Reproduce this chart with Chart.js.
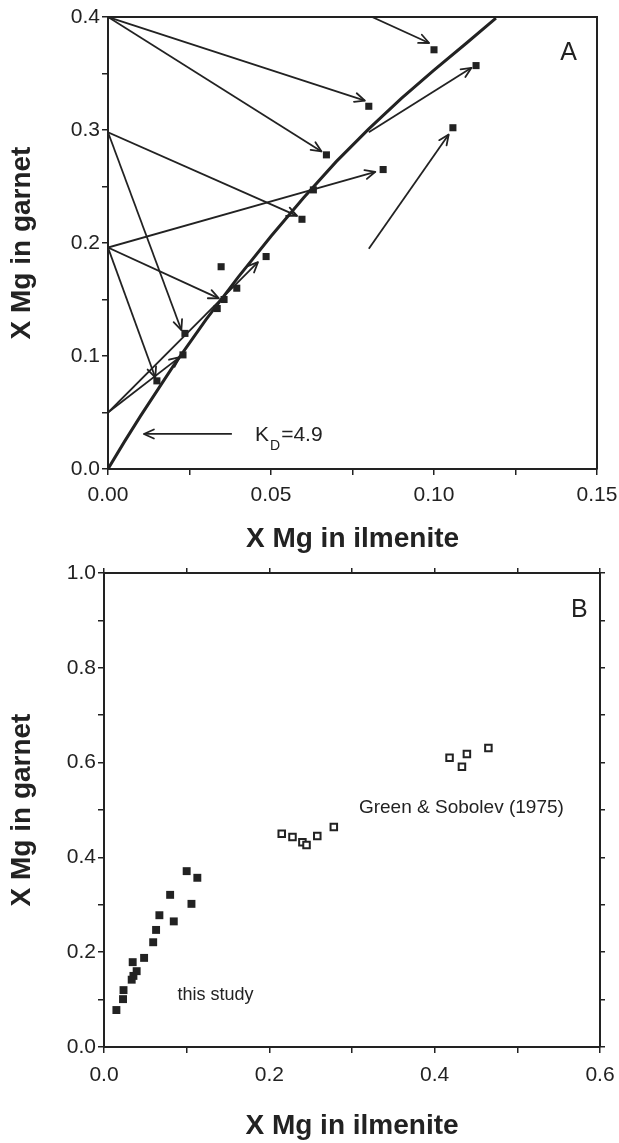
<!DOCTYPE html>
<html>
<head>
<meta charset="utf-8">
<script src="https://cdn.jsdelivr.net/npm/chart.js@4.4.1/dist/chart.umd.min.js"></script>
<style>
  html, body { margin: 0; padding: 0; background: #fff; }
  #wrapA { position: absolute; left: 0; top: 0; width: 619px; height: 560px; }
  #wrapB { position: absolute; left: 0; top: 560px; width: 619px; height: 583px; }
</style>
</head>
<body>
<div id="wrapA"><canvas id="chartA" width="619" height="560"></canvas></div>
<div id="wrapB"><canvas id="chartB" width="619" height="583"></canvas></div>
<script>
/* ---------- Data ---------- */
// this study: X Mg in ilmenite vs X Mg in garnet
const studyX = [0.015, 0.023, 0.0236, 0.0335, 0.0356, 0.0395, 0.0347, 0.0485, 0.0595, 0.063, 0.067, 0.080, 0.0844, 0.100, 0.1058, 0.1129];
const studyY = [0.078, 0.101, 0.120, 0.142, 0.150, 0.160, 0.179, 0.188, 0.221, 0.247, 0.278, 0.321, 0.265, 0.371, 0.302, 0.357];

// Green & Sobolev (1975)
const greenX = [0.215, 0.228, 0.240, 0.245, 0.258, 0.278, 0.418, 0.433, 0.439, 0.465];
const greenY = [0.450, 0.443, 0.432, 0.426, 0.445, 0.464, 0.610, 0.591, 0.618, 0.631];

// K_D = 4.9 curve
const kdX = [0, 0.005, 0.01, 0.02, 0.03, 0.04, 0.05, 0.06, 0.07, 0.08, 0.09, 0.10, 0.11, 0.119];
const kdY = [0, 0.024, 0.047, 0.091, 0.132, 0.170, 0.206, 0.240, 0.272, 0.301, 0.328, 0.353, 0.377, 0.399];

// arrows in panel A: [fromX, fromY, toX, toY]
const arrows = [
  [0, 0.4, 0.0788, 0.326],
  [0, 0.4, 0.0655, 0.281],
  [0.081, 0.4, 0.0985, 0.377],
  [0, 0.298, 0.058, 0.224],
  [0, 0.298, 0.0225, 0.123],
  [0, 0.196, 0.082, 0.263],
  [0, 0.196, 0.034, 0.151],
  [0, 0.196, 0.0145, 0.081],
  [0, 0.05, 0.046, 0.183],
  [0, 0.05, 0.022, 0.099],
  [0.080, 0.298, 0.1115, 0.355],
  [0.080, 0.195, 0.1045, 0.296],
  [0.038, 0.031, 0.011, 0.031]
];

// tick labels
const aXTicks = [0, 0.05, 0.10, 0.15];
const aYTicks = [0, 0.1, 0.2, 0.3, 0.4];
const bXTicks = [0, 0.2, 0.4, 0.6];
const bYTicks = [0, 0.2, 0.4, 0.6, 0.8, 1.0];

/* ---------- Style ---------- */
const FONT = '"Liberation Sans", Arial, Helvetica, sans-serif';
const INK = '#222';

const pts = (xs, ys) => xs.map((x, i) => ({ x, y: ys[i] }));
const labelIf = (list, digits) => (v) => list.some(t => Math.abs(t - v) < 1e-6) ? Number(v).toFixed(digits) : '';

/* ---------- Plugins ---------- */
const arrowHeads = {
  id: 'arrowHeads',
  afterDatasetsDraw(chart) {
    const ctx = chart.ctx;
    chart.data.datasets.forEach((ds, i) => {
      if (!ds.arrow) return;
      const el = chart.getDatasetMeta(i).data;
      const a = el[0], b = el[el.length - 1];
      const ang = Math.atan2(b.y - a.y, b.x - a.x);
      const len = 11, spread = 0.42;
      ctx.save();
      ctx.strokeStyle = ds.borderColor;
      ctx.lineWidth = ds.borderWidth;
      ctx.lineCap = 'round';
      ctx.lineJoin = 'round';
      ctx.beginPath();
      ctx.moveTo(b.x - len * Math.cos(ang - spread), b.y - len * Math.sin(ang - spread));
      ctx.lineTo(b.x, b.y);
      ctx.lineTo(b.x - len * Math.cos(ang + spread), b.y - len * Math.sin(ang + spread));
      ctx.stroke();
      ctx.restore();
    });
  }
};

const notes = {
  id: 'notes',
  afterDatasetsDraw(chart, args, opts) {
    const { ctx, scales: { x, y } } = chart;
    ctx.save();
    ctx.fillStyle = INK;
    ctx.textBaseline = 'alphabetic';
    ctx.textAlign = 'left';
    (opts.items || []).forEach(n => {
      let px = x.getPixelForValue(n.x);
      const py = y.getPixelForValue(n.y);
      n.parts.forEach(p => {
        ctx.font = `${p.size}px ${FONT}`;
        ctx.fillText(p.text, px, py + (p.dy || 0));
        px += ctx.measureText(p.text).width + (p.gap || 0);
      });
    });
    ctx.restore();
  }
};

/* ---------- Shared axis builder ---------- */
// label overflow padding is zeroed so the plot box is set by layout.padding alone
function axes(o) {
  const grid = { display: true, drawOnChartArea: false, drawTicks: true, tickLength: 6, color: INK, lineWidth: 1.5 };
  const border = { display: true, color: INK, width: 2 };
  const flatX = (h) => (s) => { s.height = h; s.paddingLeft = 0; s.paddingRight = 0; };
  const flatY = (w) => (s) => { s.width = w; s.paddingTop = 0; s.paddingBottom = 0; };
  return {
    x: {
      type: 'linear', position: 'bottom', min: o.xMin, max: o.xMax,
      afterFit: flatX(o.xHeight),
      ticks: { stepSize: o.xStep, autoSkip: false, maxRotation: 0, padding: o.xPad,
        color: INK, font: { family: FONT, size: 21 }, callback: labelIf(o.xTicks, o.xDigits) },
      grid, border,
      title: { display: true, text: 'X Mg in ilmenite', color: INK,
        font: { family: FONT, size: 28, weight: 'bold' }, padding: { top: 0, bottom: o.xTitlePad } }
    },
    y: {
      type: 'linear', position: 'left', min: o.yMin, max: o.yMax,
      afterFit: flatY(o.yWidth),
      ticks: { stepSize: o.yStep, autoSkip: false, padding: 2,
        color: INK, font: { family: FONT, size: 21 }, callback: labelIf(o.yTicks, o.yDigits) },
      grid, border,
      title: { display: true, text: 'X Mg in garnet', color: INK,
        font: { family: FONT, size: 28, weight: 'bold' }, padding: { top: 5, bottom: 0 } }
    },
    x2: {
      type: 'linear', position: 'top', min: o.xMin, max: o.xMax,
      afterFit: flatX(0),
      ticks: { display: false, stepSize: o.xStep },
      grid: { ...grid, drawTicks: o.mirror, tickLength: 5 }, border
    },
    y2: {
      type: 'linear', position: 'right', min: o.yMin, max: o.yMax,
      afterFit: flatY(0),
      ticks: { display: false, stepSize: o.yStep },
      grid: { ...grid, drawTicks: o.mirror, tickLength: 5 }, border
    }
  };
}

const baseOpts = {
  responsive: false,
  animation: false,
  devicePixelRatio: 1,
  plugins: { legend: { display: false }, tooltip: { enabled: false } }
};

/* ---------- Panel A ---------- */
const dsA = [
  { data: pts(studyX, studyY), pointStyle: 'rect', pointRadius: 5, backgroundColor: INK, borderColor: INK, borderWidth: 0, showLine: false },
  { data: pts(kdX, kdY), showLine: true, borderColor: INK, borderWidth: 3, pointRadius: 0, tension: 0 }
];
arrows.forEach(a => dsA.push({
  data: [{ x: a[0], y: a[1] }, { x: a[2], y: a[3] }],
  showLine: true, arrow: true, borderColor: INK, borderWidth: 1.8, pointRadius: 0
}));

new Chart(document.getElementById('chartA'), {
  type: 'scatter',
  data: { datasets: dsA },
  options: {
    ...baseOpts,
    layout: { padding: { left: 0, right: 22, top: 17, bottom: 0 } },
    scales: axes({ xMin: 0, xMax: 0.15, xStep: 0.025, xTicks: aXTicks, xDigits: 2, xPad: 8, xHeight: 91, xTitlePad: 4,
                   yMin: 0, yMax: 0.4, yStep: 0.05, yTicks: aYTicks, yDigits: 1, yWidth: 108, mirror: false }),
    plugins: {
      ...baseOpts.plugins,
      notes: { items: [
        { x: 0.1387, y: 0.362, parts: [{ text: 'A', size: 25 }] },
        { x: 0.0451, y: 0.0248, parts: [{ text: 'K', size: 21, gap: 1 }, { text: 'D', size: 14, dy: 9, gap: 1 }, { text: '=4.9', size: 21 }] }
      ] }
    }
  },
  plugins: [arrowHeads, notes]
});

/* ---------- Panel B ---------- */
new Chart(document.getElementById('chartB'), {
  type: 'scatter',
  data: { datasets: [
    { data: pts(studyX, studyY), pointStyle: 'rect', pointRadius: 5.6, backgroundColor: INK, borderColor: INK, borderWidth: 0 },
    { data: pts(greenX, greenY), pointStyle: 'rect', pointRadius: 4.6, backgroundColor: '#fff', borderColor: INK, borderWidth: 2 }
  ] },
  options: {
    ...baseOpts,
    layout: { padding: { left: 0, right: 19, top: 13, bottom: 0 } },
    scales: axes({ xMin: 0, xMax: 0.6, xStep: 0.1, xTicks: bXTicks, xDigits: 1, xPad: 10, xHeight: 96, xTitlePad: 0,
                   yMin: 0, yMax: 1.0, yStep: 0.1, yTicks: bYTicks, yDigits: 1, yWidth: 104, mirror: true }),
    plugins: {
      ...baseOpts.plugins,
      notes: { items: [
        { x: 0.565, y: 0.907, parts: [{ text: 'B', size: 25 }] },
        { x: 0.089, y: 0.099, parts: [{ text: 'this study', size: 18 }] },
        { x: 0.3084, y: 0.494, parts: [{ text: 'Green & Sobolev (1975)', size: 19 }] }
      ] }
    }
  },
  plugins: [notes]
});
</script>
</body>
</html>
